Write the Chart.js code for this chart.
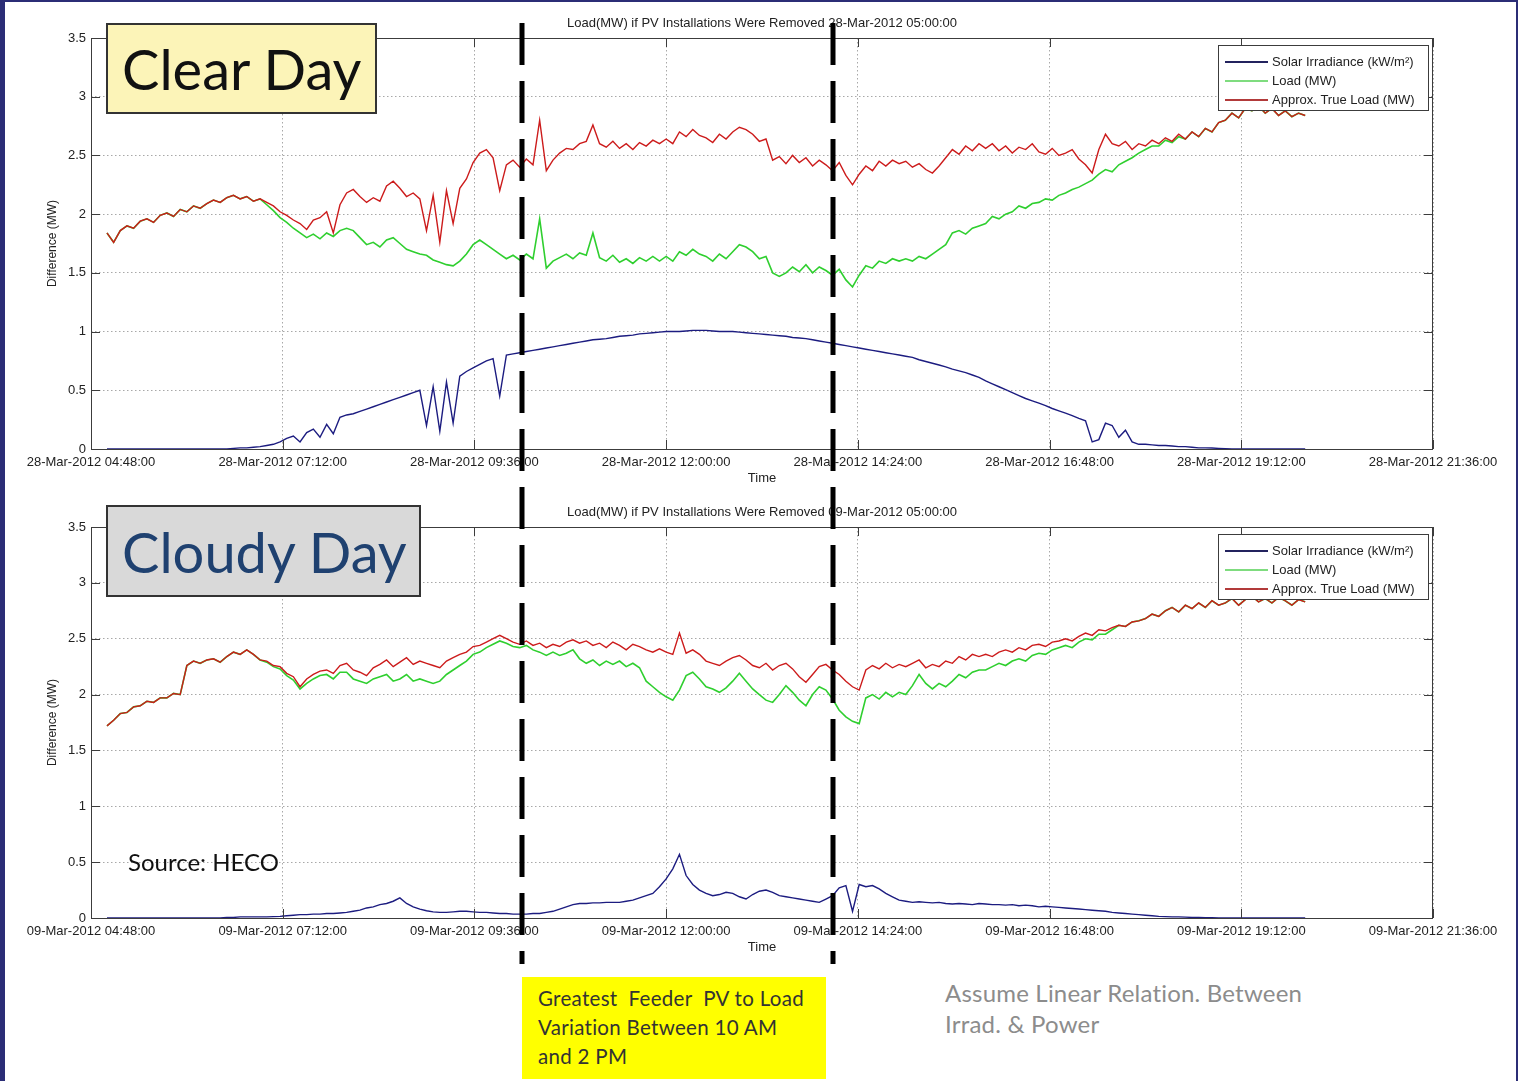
<!DOCTYPE html>
<html>
<head>
<meta charset="utf-8">
<script src="https://cdn.jsdelivr.net/npm/chart.js@4.4.1/dist/chart.umd.min.js"></script>
<style>
  html, body { margin: 0; padding: 0; background: #fff; }
  #page { position: relative; width: 1518px; height: 1081px; overflow: hidden; background: #fff; }
  .edge { position: absolute; background: #2b2d76; }
  canvas.plot { position: absolute; left: 0; }
  .tag { position: absolute; box-sizing: border-box; border: 2px solid #333; font-family: Lato, "Open Sans", sans-serif; display: flex; align-items: center; padding-left: 14px; }
  .note { position: absolute; font-family: Lato, "Open Sans", sans-serif; }
</style>
</head>
<body>
<div id="page">
  <canvas id="clearChart" class="plot" width="1518" height="500" style="top:0"></canvas>
  <canvas id="cloudyChart" class="plot" width="1518" height="479" style="top:490px"></canvas>

  <div class="tag" style="left:106px;top:23px;width:271px;height:91px;background:#fcf4b8;font-size:56px;color:#111;">Clear Day</div>
  <div class="tag" style="left:106px;top:505px;width:315px;height:92px;background:#d9d9d9;font-size:56px;color:#1f4170;">Cloudy Day</div>
  <div class="note" style="left:128px;top:847px;font-size:24px;color:#111;">Source: HECO</div>
  <div class="note" style="left:522px;top:977px;width:304px;height:102px;box-sizing:border-box;background:#ffff00;padding:7px 0 0 16px;font-size:20.5px;line-height:29px;color:#333;letter-spacing:0.3px;">Greatest&nbsp; Feeder&nbsp; PV to Load<br>Variation Between 10 AM<br>and 2 PM</div>
  <div class="note" style="left:945px;top:977px;font-size:24px;line-height:31px;color:#8c8c8c;letter-spacing:0.2px;">Assume Linear Relation. Between<br>Irrad. &amp; Power</div>

  <canvas id="overlay" width="1518" height="1081" style="position:absolute;left:0;top:0;pointer-events:none"></canvas>

  <div class="edge" style="left:0;top:0;width:5px;height:1081px"></div>
  <div class="edge" style="left:0;top:0;width:1518px;height:2px"></div>
  <div class="edge" style="right:0;top:0;width:2px;height:1081px"></div>
</div>
<script>
// samples every 5 min from 05:00 to 20:00; x axis is minutes after 04:48
const SAMPLE_START = 12;
const SAMPLE_STEP = 5;

const clearTicks = ['28-Mar-2012 04:48:00', '28-Mar-2012 07:12:00', '28-Mar-2012 09:36:00', '28-Mar-2012 12:00:00',
    '28-Mar-2012 14:24:00', '28-Mar-2012 16:48:00', '28-Mar-2012 19:12:00', '28-Mar-2012 21:36:00'];
const cloudyTicks = ['09-Mar-2012 04:48:00', '09-Mar-2012 07:12:00', '09-Mar-2012 09:36:00', '09-Mar-2012 12:00:00',
    '09-Mar-2012 14:24:00', '09-Mar-2012 16:48:00', '09-Mar-2012 19:12:00', '09-Mar-2012 21:36:00'];
const yTicks = ['0', '0.5', '1', '1.5', '2', '2.5', '3', '3.5'];

const seriesNames = ['Solar Irradiance (kW/m\u00b2)', 'Load (MW)', 'Approx. True Load (MW)'];
const legendColors = ['#23235e', '#7fdc7f', '#b23a3a'];

// 10:12 and 14:05, the two dashed markers
const markerMinutes = [324, 557];

const clearIrradiance = [
    0, 0, 0, 0, 0, 0, 0, 0, 0, 0, 0, 0,
    0, 0, 0, 0, 0, 0, 0, 0.005, 0.01, 0.01, 0.015, 0.02,
    0.03, 0.04, 0.06, 0.09, 0.11, 0.06, 0.14, 0.17, 0.10, 0.21, 0.13, 0.27,
    0.29, 0.30, 0.32, 0.34, 0.36, 0.38, 0.40, 0.42, 0.44, 0.46, 0.48, 0.50,
    0.20, 0.53, 0.15, 0.57, 0.22, 0.62, 0.66, 0.69, 0.72, 0.75, 0.77, 0.45,
    0.80, 0.81, 0.82, 0.83, 0.84, 0.85, 0.86, 0.87, 0.88, 0.89, 0.90, 0.91,
    0.92, 0.93, 0.935, 0.94, 0.95, 0.96, 0.965, 0.97, 0.98, 0.985, 0.99, 0.995,
    1.0, 1.0, 1.0, 1.005, 1.01, 1.01, 1.01, 1.005, 1.0, 1.0, 1.0, 0.995,
    0.99, 0.985, 0.98, 0.975, 0.97, 0.965, 0.96, 0.95, 0.945, 0.94, 0.93, 0.92,
    0.91, 0.90, 0.89, 0.88, 0.87, 0.86, 0.85, 0.84, 0.83, 0.82, 0.81, 0.80,
    0.79, 0.78, 0.76, 0.745, 0.73, 0.715, 0.70, 0.68, 0.665, 0.65, 0.63, 0.61,
    0.58, 0.555, 0.53, 0.505, 0.48, 0.455, 0.43, 0.41, 0.39, 0.37, 0.345, 0.325,
    0.305, 0.285, 0.26, 0.24, 0.06, 0.08, 0.22, 0.20, 0.10, 0.16, 0.06, 0.04,
    0.04, 0.035, 0.03, 0.03, 0.025, 0.02, 0.02, 0.015, 0.01, 0.01, 0.008, 0.005,
    0.003, 0.001, 0, 0, 0, 0, 0, 0, 0, 0, 0, 0,
    0
];
const clearLoad = [
    1.84, 1.76, 1.86, 1.90, 1.88, 1.94, 1.96, 1.93, 1.99, 2.01, 1.98, 2.04,
    2.02, 2.07, 2.05, 2.09, 2.12, 2.10, 2.14, 2.16, 2.13, 2.15, 2.11, 2.13,
    2.08, 2.03, 1.97, 1.93, 1.88, 1.84, 1.80, 1.83, 1.79, 1.84, 1.81, 1.86,
    1.88, 1.86, 1.80, 1.74, 1.76, 1.72, 1.78, 1.80, 1.75, 1.70, 1.68, 1.66,
    1.65, 1.61, 1.59, 1.57, 1.56, 1.60, 1.66, 1.74, 1.78, 1.74, 1.70, 1.66,
    1.62, 1.65, 1.61, 1.66, 1.62, 1.96, 1.54, 1.60, 1.63, 1.66, 1.62, 1.67,
    1.65, 1.84, 1.63, 1.60, 1.65, 1.59, 1.62, 1.58, 1.63, 1.60, 1.64, 1.60,
    1.64, 1.60, 1.68, 1.65, 1.70, 1.66, 1.64, 1.60, 1.66, 1.62, 1.68, 1.74,
    1.72, 1.68, 1.62, 1.64, 1.50, 1.47, 1.50, 1.55, 1.51, 1.57, 1.50, 1.55,
    1.52, 1.48, 1.53, 1.44, 1.38, 1.48, 1.56, 1.54, 1.60, 1.58, 1.62, 1.60,
    1.62, 1.60, 1.64, 1.62, 1.66, 1.70, 1.74, 1.84, 1.86, 1.83, 1.88, 1.90,
    1.92, 1.98, 1.96, 2.00, 2.02, 2.07, 2.05, 2.09, 2.10, 2.13, 2.12, 2.16,
    2.18, 2.21, 2.23, 2.26, 2.29, 2.34, 2.38, 2.36, 2.42, 2.45, 2.48, 2.52,
    2.55, 2.58, 2.58, 2.63, 2.61, 2.66, 2.64, 2.70, 2.66, 2.73, 2.70, 2.78,
    2.80, 2.86, 2.82, 2.90, 2.88, 2.92, 2.86, 2.90, 2.84, 2.88, 2.83, 2.86,
    2.84
];
const clearTrueLoad = [
    1.84, 1.76, 1.86, 1.90, 1.88, 1.94, 1.96, 1.93, 1.99, 2.01, 1.98, 2.04,
    2.02, 2.07, 2.05, 2.09, 2.12, 2.10, 2.14, 2.16, 2.13, 2.15, 2.11, 2.13,
    2.10, 2.07, 2.02, 1.99, 1.95, 1.92, 1.87, 1.95, 1.97, 2.02, 1.84, 2.08,
    2.18, 2.21, 2.15, 2.10, 2.14, 2.11, 2.24, 2.28, 2.22, 2.15, 2.18, 2.13,
    1.86, 2.16, 1.76, 2.20, 1.92, 2.22, 2.30, 2.44, 2.52, 2.55, 2.48, 2.20,
    2.42, 2.46, 2.40, 2.47, 2.42, 2.80, 2.37, 2.46, 2.52, 2.56, 2.55, 2.60,
    2.62, 2.76, 2.60, 2.57, 2.62, 2.56, 2.60, 2.55, 2.61, 2.58, 2.63, 2.60,
    2.64, 2.60, 2.70, 2.66, 2.72, 2.67, 2.65, 2.61, 2.68, 2.64, 2.70, 2.74,
    2.72, 2.68, 2.62, 2.64, 2.46, 2.49, 2.43, 2.50, 2.44, 2.48, 2.41, 2.46,
    2.42, 2.37, 2.44, 2.33, 2.25, 2.34, 2.41, 2.37, 2.45, 2.41, 2.46, 2.43,
    2.45, 2.40, 2.43, 2.38, 2.35, 2.41, 2.48, 2.55, 2.51, 2.58, 2.54, 2.60,
    2.56, 2.60, 2.54, 2.58, 2.52, 2.57, 2.55, 2.60, 2.53, 2.51, 2.56, 2.50,
    2.52, 2.55, 2.47, 2.42, 2.35, 2.55, 2.68, 2.60, 2.58, 2.62, 2.55, 2.60,
    2.58, 2.63, 2.60, 2.65, 2.62, 2.68, 2.64, 2.70, 2.66, 2.73, 2.70, 2.78,
    2.80, 2.86, 2.82, 2.90, 2.88, 2.92, 2.86, 2.90, 2.84, 2.88, 2.83, 2.86,
    2.84
];

const cloudyIrradiance = [
    0, 0, 0, 0, 0, 0, 0, 0, 0, 0, 0, 0,
    0, 0, 0, 0, 0, 0, 0.005, 0.005, 0.01, 0.01, 0.01, 0.01,
    0.01, 0.012, 0.015, 0.02, 0.025, 0.03, 0.03, 0.035, 0.035, 0.04, 0.04, 0.045,
    0.05, 0.06, 0.07, 0.09, 0.10, 0.12, 0.13, 0.15, 0.18, 0.13, 0.10, 0.08,
    0.065, 0.055, 0.05, 0.05, 0.055, 0.06, 0.06, 0.055, 0.05, 0.05, 0.045, 0.04,
    0.04, 0.035, 0.035, 0.035, 0.04, 0.04, 0.05, 0.06, 0.08, 0.10, 0.12, 0.13,
    0.13, 0.135, 0.135, 0.14, 0.14, 0.14, 0.15, 0.16, 0.18, 0.20, 0.22, 0.28,
    0.35, 0.44, 0.57, 0.38, 0.30, 0.25, 0.22, 0.20, 0.21, 0.23, 0.22, 0.19,
    0.17, 0.21, 0.24, 0.25, 0.23, 0.20, 0.19, 0.18, 0.17, 0.16, 0.15, 0.14,
    0.17, 0.20, 0.27, 0.29, 0.06, 0.30, 0.28, 0.29, 0.26, 0.22, 0.19, 0.16,
    0.15, 0.14, 0.145, 0.14, 0.135, 0.14, 0.13, 0.125, 0.13, 0.125, 0.12, 0.13,
    0.125, 0.12, 0.12, 0.115, 0.12, 0.11, 0.115, 0.11, 0.10, 0.105, 0.10, 0.095,
    0.09, 0.085, 0.08, 0.075, 0.07, 0.065, 0.06, 0.05, 0.045, 0.04, 0.035, 0.03,
    0.025, 0.02, 0.015, 0.012, 0.01, 0.01, 0.008, 0.005, 0.005, 0.003, 0.002, 0.001,
    0, 0, 0, 0, 0, 0, 0, 0, 0, 0, 0, 0,
    0
];
const cloudyLoad = [
    1.72, 1.77, 1.83, 1.84, 1.89, 1.90, 1.94, 1.93, 1.97, 1.97, 2.01, 2.00,
    2.26, 2.30, 2.28, 2.31, 2.32, 2.29, 2.34, 2.38, 2.36, 2.40, 2.36, 2.31,
    2.29, 2.25, 2.23, 2.17, 2.13, 2.05, 2.10, 2.14, 2.17, 2.18, 2.14, 2.20,
    2.20, 2.14, 2.12, 2.10, 2.14, 2.16, 2.18, 2.12, 2.14, 2.18, 2.12, 2.14,
    2.12, 2.10, 2.12, 2.18, 2.22, 2.26, 2.30, 2.36, 2.38, 2.42, 2.45, 2.48,
    2.46, 2.43, 2.42, 2.44, 2.40, 2.38, 2.35, 2.38, 2.35, 2.37, 2.40, 2.32,
    2.28, 2.31, 2.26, 2.30, 2.27, 2.30, 2.25, 2.28, 2.24, 2.12, 2.07, 2.02,
    1.98, 1.95, 2.04, 2.17, 2.20, 2.14, 2.07, 2.05, 2.02, 2.06, 2.12, 2.19,
    2.12, 2.05, 2.00, 1.95, 1.93, 2.00, 2.08, 2.02, 1.95, 1.90, 2.00, 2.07,
    2.04, 1.96, 1.86, 1.80, 1.76, 1.74, 1.97, 2.00, 1.96, 2.02, 1.98, 2.02,
    2.00, 2.08, 2.18, 2.10, 2.05, 2.10, 2.07, 2.12, 2.18, 2.15, 2.20, 2.22,
    2.22, 2.25, 2.28, 2.26, 2.30, 2.32, 2.30, 2.35, 2.37, 2.36, 2.40, 2.42,
    2.44, 2.42, 2.47, 2.50, 2.49, 2.54, 2.54, 2.58, 2.62, 2.61, 2.65, 2.66,
    2.68, 2.72, 2.70, 2.75, 2.78, 2.74, 2.80, 2.77, 2.82, 2.78, 2.84, 2.80,
    2.82, 2.86, 2.80, 2.85, 2.88, 2.83, 2.86, 2.82, 2.87, 2.84, 2.80, 2.85,
    2.83
];
const cloudyTrueLoad = [
    1.72, 1.77, 1.83, 1.84, 1.89, 1.90, 1.94, 1.93, 1.97, 1.97, 2.01, 2.00,
    2.26, 2.30, 2.28, 2.31, 2.32, 2.29, 2.34, 2.38, 2.36, 2.40, 2.36, 2.31,
    2.30, 2.26, 2.25, 2.19, 2.16, 2.07, 2.14, 2.18, 2.21, 2.22, 2.19, 2.26,
    2.28, 2.22, 2.20, 2.17, 2.24, 2.27, 2.31, 2.25, 2.29, 2.33, 2.27, 2.30,
    2.28, 2.26, 2.24, 2.30, 2.33, 2.36, 2.38, 2.43, 2.44, 2.47, 2.50, 2.53,
    2.50, 2.47, 2.45, 2.48, 2.44, 2.46, 2.42, 2.45, 2.43, 2.47, 2.49, 2.46,
    2.48, 2.44, 2.46, 2.42, 2.47, 2.44, 2.40, 2.45, 2.43, 2.40, 2.38, 2.41,
    2.38, 2.36, 2.55, 2.37, 2.40, 2.36, 2.30, 2.28, 2.26, 2.30, 2.33, 2.35,
    2.31, 2.26, 2.24, 2.28, 2.22, 2.26, 2.28, 2.23, 2.16, 2.11, 2.18, 2.25,
    2.27, 2.22, 2.18, 2.12, 2.07, 2.04, 2.22, 2.26, 2.23, 2.28, 2.24, 2.27,
    2.25, 2.28, 2.31, 2.24, 2.27, 2.25, 2.30, 2.28, 2.34, 2.31, 2.36, 2.34,
    2.36, 2.34, 2.38, 2.40, 2.38, 2.42, 2.40, 2.44, 2.45, 2.43, 2.47, 2.48,
    2.50, 2.48, 2.52, 2.55, 2.53, 2.58, 2.57, 2.60, 2.62, 2.61, 2.65, 2.66,
    2.68, 2.72, 2.70, 2.75, 2.78, 2.74, 2.80, 2.77, 2.82, 2.78, 2.84, 2.80,
    2.82, 2.86, 2.80, 2.85, 2.88, 2.83, 2.86, 2.82, 2.87, 2.84, 2.80, 2.85,
    2.83
];

Chart.defaults.font.family = '"Liberation Sans", Arial, sans-serif';
Chart.defaults.color = '#222';

function toPoints(values) {
    return values.map((v, i) => ({ x: SAMPLE_START + i * SAMPLE_STEP, y: v }));
}

// MATLAB-like box, inward ticks, title and legend
const matlabFrame = {
    id: 'matlabFrame',
    afterDatasetsDraw(chart, args, opts) {
        const ctx = chart.ctx;
        const a = chart.chartArea;
        const xs = chart.scales.x, ys = chart.scales.y;
        ctx.save();
        ctx.strokeStyle = '#3c3c3c';
        ctx.lineWidth = 1;
        ctx.strokeRect(a.left + 0.5, a.top + 0.5, a.right - a.left - 1, a.bottom - a.top);
        ctx.beginPath();
        xs.ticks.forEach(t => {
            const x = Math.round(xs.getPixelForValue(t.value)) + 0.5;
            ctx.moveTo(x, a.bottom); ctx.lineTo(x, a.bottom - 9);
            ctx.moveTo(x, a.top); ctx.lineTo(x, a.top + 9);
        });
        ys.ticks.forEach(t => {
            const y = Math.round(ys.getPixelForValue(t.value)) + 0.5;
            ctx.moveTo(a.left, y); ctx.lineTo(a.left + 9, y);
            ctx.moveTo(a.right, y); ctx.lineTo(a.right - 9, y);
        });
        ctx.stroke();

        ctx.fillStyle = '#222';
        ctx.font = '13px "Liberation Sans", Arial, sans-serif';
        ctx.textAlign = 'center';
        ctx.textBaseline = 'middle';
        ctx.fillText(opts.text, (a.left + a.right) / 2, a.top - 15);

        // legend box
        const bx = a.right - 215, by = a.top + 7, bw = 210, bh = 65;
        ctx.fillStyle = '#fff';
        ctx.fillRect(bx, by, bw, bh);
        ctx.strokeStyle = '#3c3c3c';
        ctx.strokeRect(bx + 0.5, by + 0.5, bw, bh);
        ctx.textAlign = 'left';
        ctx.font = '13px "Liberation Sans", Arial, sans-serif';
        chart.data.datasets.forEach((ds, i) => {
            const ly = by + 17 + i * 19;
            ctx.strokeStyle = legendColors[i];
            ctx.lineWidth = 2;
            ctx.beginPath();
            ctx.moveTo(bx + 7, ly); ctx.lineTo(bx + 50, ly);
            ctx.stroke();
            ctx.fillStyle = '#222';
            ctx.fillText(ds.label, bx + 54, ly);
        });
        ctx.restore();
    }
};

function makeChart(id, title, tickLabels, irradiance, load, trueLoad, topPad) {
    return new Chart(document.getElementById(id).getContext('2d'), {
        type: 'line',
        data: {
            datasets: [
                { label: seriesNames[0], data: toPoints(irradiance), borderColor: '#1c1c80', borderWidth: 1.4, order: 2 },
                { label: seriesNames[1], data: toPoints(load), borderColor: '#2fcf2f', borderWidth: 1.6, order: 1 },
                { label: seriesNames[2], data: toPoints(trueLoad), borderColor: '#cc1b1b', borderWidth: 1.4, order: 0 }
            ]
        },
        options: {
            responsive: false,
            animation: false,
            events: [],
            elements: { point: { radius: 0 }, line: { tension: 0 } },
            layout: { padding: { top: topPad, right: 85, left: 0, bottom: 0 } },
            plugins: {
                legend: { display: false },
                tooltip: { enabled: false },
                matlabFrame: { text: title }
            },
            scales: {
                x: {
                    type: 'linear',
                    min: 0, max: 1008,
                    afterFit: s => { s.height = 51; },
                    ticks: {
                        stepSize: 144, autoSkip: false, maxRotation: 0, padding: 6,
                        font: { size: 13 }, color: '#222',
                        callback: (v, i) => tickLabels[i]
                    },
                    grid: { color: '#a8a8a8', lineWidth: 1, drawTicks: false },
                    border: { display: false, dash: [1.5, 2.5] },
                    title: { display: true, text: 'Time', font: { size: 13 }, color: '#222', padding: { top: 0, bottom: 14 } }
                },
                y: {
                    min: 0, max: 3.5,
                    afterFit: s => { s.width = 91; },
                    ticks: {
                        stepSize: 0.5, padding: 5, font: { size: 13 }, color: '#222',
                        callback: (v, i) => yTicks[i]
                    },
                    grid: { color: '#a8a8a8', lineWidth: 1, drawTicks: false },
                    border: { display: false, dash: [1.5, 2.5] },
                    title: { display: true, text: 'Difference (MW)', font: { size: 12 }, color: '#222', padding: { top: 45, bottom: 0 } }
                }
            }
        },
        plugins: [matlabFrame]
    });
}

const clearChart = makeChart('clearChart', 'Load(MW) if PV Installations Were Removed 28-Mar-2012 05:00:00',
    clearTicks, clearIrradiance, clearLoad, clearTrueLoad, 38);
const cloudyChart = makeChart('cloudyChart', 'Load(MW) if PV Installations Were Removed 09-Mar-2012 05:00:00',
    cloudyTicks, cloudyIrradiance, cloudyLoad, cloudyTrueLoad, 37);

// dashed markers spanning both panels
const octx = document.getElementById('overlay').getContext('2d');
octx.strokeStyle = '#000';
octx.lineWidth = 5;
octx.setLineDash([42, 16]);
markerMinutes.forEach(m => {
    const x = Math.round(clearChart.scales.x.getPixelForValue(m));
    octx.beginPath();
    octx.moveTo(x, 23);
    octx.lineTo(x, 964);
    octx.stroke();
});
</script>
</body>
</html>
